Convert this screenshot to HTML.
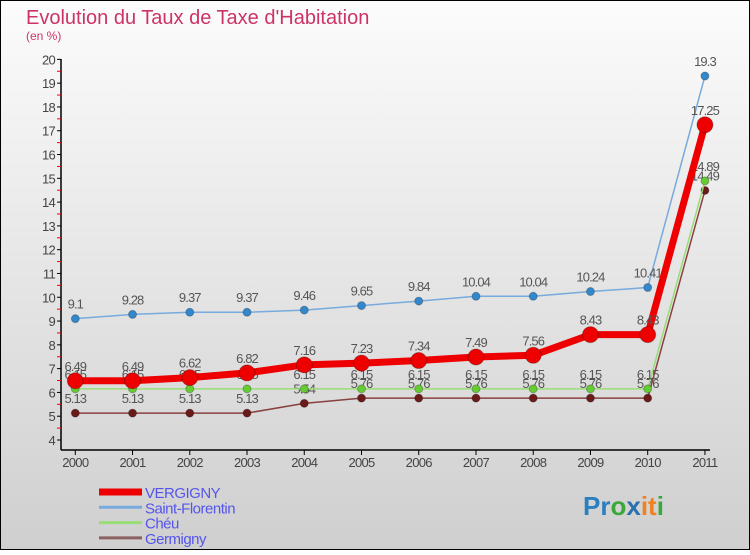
<!DOCTYPE html>
<html><head><meta charset="utf-8"><style>
body{margin:0;width:750px;height:550px;overflow:hidden;font-family:"Liberation Sans",sans-serif}
</style></head><body>
<svg id="c" width="750" height="550" xmlns="http://www.w3.org/2000/svg">
<defs><linearGradient id="bg" x1="0" y1="0" x2="0" y2="1"><stop offset="0" stop-color="#fcfcfc"/><stop offset="1" stop-color="#cfcfcf"/></linearGradient></defs>
<rect x="0.5" y="0.5" width="749" height="549" fill="url(#bg)" stroke="#000"/>
<text x="26" y="24" font-size="20" fill="#cc3366">Evolution du Taux de Taxe d'Habitation</text>
<text x="26" y="40" font-size="12" fill="#cc3366">(en %)</text>
<g id="axes"></g><g id="series"></g><g id="legend"></g>
<text x="583" y="515" font-size="26" font-weight="bold"><tspan fill="#2a7fc0">Pr</tspan><tspan fill="#3aa83a">o</tspan><tspan fill="#2a6fb0">x</tspan><tspan fill="#f08020">it</tspan><tspan fill="#3aa83a">i</tspan></text>
</svg>
<script>
const years=[2000,2001,2002,2003,2004,2005,2006,2007,2008,2009,2010,2011];
const yTicks=[4,5,6,7,8,9,10,11,12,13,14,15,16,17,18,19,20];
const vergigny=[6.49,6.49,6.62,6.82,7.16,7.23,7.34,7.49,7.56,8.43,8.43,17.25];
const saintFlorentin=[9.1,9.28,9.37,9.37,9.46,9.65,9.84,10.04,10.04,10.24,10.41,19.3];
const cheu=[6.15,6.15,6.15,6.15,6.15,6.15,6.15,6.15,6.15,6.15,6.15,14.89];
const germigny=[5.13,5.13,5.13,5.13,5.54,5.76,5.76,5.76,5.76,5.76,5.76,14.49];
const names=["VERGIGNY","Saint-Florentin","Chéu","Germigny"];
const NS="http://www.w3.org/2000/svg";
const X=i=>75.3+i*57.24, Y=v=>440-(v-4)*23.79;
function mk(p,t,a){const e=document.createElementNS(NS,t);for(const k in a)e.setAttribute(k,a[k]);p.appendChild(e);return e;}
const ax=document.getElementById('axes');
let e=mk(ax,'line',{x1:61,y1:59,x2:61,y2:450,stroke:'#000','stroke-width':1.5});


e=mk(ax,'line',{x1:61,y1:450,x2:710,y2:450,stroke:'#000','stroke-width':1.5});


yTicks.forEach(v=>{
 mk(ax,'line',{x1:57,y1:Y(v),x2:61,y2:Y(v),stroke:'#000'});
 if(v<20)mk(ax,'line',{x1:57,y1:Y(v+0.5),x2:61,y2:Y(v+0.5),stroke:'#e00'});
 const t=mk(ax,'text',{x:55,y:Y(v)+5,'font-size':13,'text-anchor':'end',fill:'#444','letter-spacing':'-0.7'});t.textContent=v;
 
 
});
years.forEach((y,i)=>{
 mk(ax,'line',{x1:X(i),y1:450,x2:X(i),y2:455,stroke:'#000'});
 const t=mk(ax,'text',{x:X(i),y:467,'font-size':13,'text-anchor':'middle',fill:'#444','letter-spacing':'-0.7'});t.textContent=y;
 
 
});
const sg=document.getElementById('series');
const defs=[[germigny,'#6b1a1a','#8a4040',1.5,4],[cheu,'#66cc33','#99dd77',1.5,4],[saintFlorentin,'#3388cc','#77aadd',1.5,4],[vergigny,'#ee0000','#ee0000',7,8]];
const keys=['germigny','cheu','saint-florentin','vergigny'];
defs.forEach((d,k)=>{
 const [vals,pc,lc,w,r]=d;
 const g=mk(sg,'g',{});
 
 
 const l=mk(g,'polyline',{points:vals.map((v,i)=>X(i)+','+Y(v)).join(' '),fill:'none',stroke:lc,'stroke-width':w,'stroke-linejoin':'round'});
 
 
 vals.forEach((v,i)=>{
  const c=mk(g,'circle',{cx:X(i),cy:Y(v),r:r,fill:pc,stroke:'rgba(0,0,0,0.25)'});
  
  
  const t=mk(g,'text',{x:X(i),y:Y(v)-10,'font-size':13,'text-anchor':'middle',fill:'#555','letter-spacing':'-0.9'});t.textContent=v;
  
  
 });
});
const lg=document.getElementById('legend');
const lcol=['#ee0000','#77aadd','#99dd77','#8a6060'],lw=[7,3,3,3];
names.forEach((n,k)=>{
 const y=492+k*15.3;
 const g=mk(lg,'g',{});
 
 
 mk(g,'line',{x1:99,y1:y,x2:142,y2:y,stroke:lcol[k],'stroke-width':lw[k]});
 const t=mk(g,'text',{x:145,y:y+6,'font-size':15,fill:'#5555ee','letter-spacing':'-0.5'});t.textContent=n;
});
</script>
</body></html>
